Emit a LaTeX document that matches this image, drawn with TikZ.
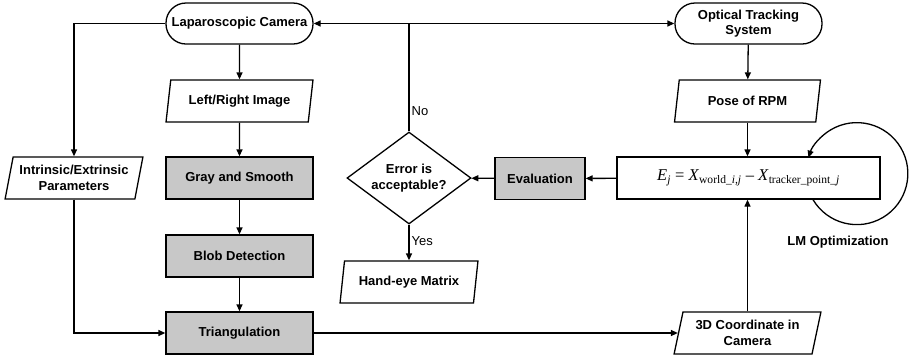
\documentclass[tikz,border=0pt]{standalone}
\usepackage{fontspec}
\setmainfont{Liberation Sans}
\newfontfamily\tms{Liberation Serif}
\usetikzlibrary{shapes.geometric,arrows.meta}
\definecolor{procgray}{RGB}{200,200,200}
\begin{document}
\begin{tikzpicture}[x=1pt,y=-1pt, line width=1.3pt,
  >={Triangle[length=7pt,width=6pt]},
  base/.style={draw, font=\fontsize{13}{15.5}\selectfont\bfseries, align=center, inner sep=0pt},
  term/.style={base, rectangle, rounded corners=20pt, minimum width=147pt, minimum height=41pt},
  proc/.style={base, rectangle, fill=procgray, minimum width=147pt, minimum height=42pt},
  io/.style={base, trapezium, trapezium left angle=74, trapezium right angle=106,
             trapezium stretches=true, minimum width=#1, minimum height=42pt},
  io/.default=147pt,
  decis/.style={base, diamond, aspect=1.35, minimum width=124pt, minimum height=92pt},
  eqbox/.style={draw, rectangle, fill=white, minimum width=263pt, minimum height=42pt, inner sep=0pt},
  lbl/.style={font=\fontsize{13}{15}\selectfont, inner sep=2pt}
]
\useasboundingbox (0,0) rectangle (910,360);

\node[term] (lap) at (239.5,23.5) {Laparoscopic Camera};
\node[term] (ots) at (748.5,23.5) {Optical Tracking\\System};
\node[io] (lr) at (239.5,101) {Left/Right Image};
\node[proc] (gs) at (239.5,178) {Gray and Smooth};
\node[proc] (bd) at (239.5,256) {Blob Detection};
\node[proc] (tri) at (239.5,333) {Triangulation};
\node[io=138pt] (par) at (74,178) {Intrinsic/Extrinsic\\Parameters};
\node[io] (pose) at (747.5,101) {Pose of RPM};
\node[io] (c3d) at (747.5,333) {3D Coordinate in\\Camera};
\node[eqbox] (err) at (748.5,178) {\tms\fontsize{16.5}{18}\selectfont
  \textit{E}\textsubscript{\textit{j}} = \textit{X}\textsubscript{world\_\textit{i,j}} \raisebox{0.1ex}{\textendash}
  \textit{X}\textsubscript{tracker\_point\_\textit{j}}};
\node[proc, minimum width=90pt] (eval) at (540,178.5) {Evaluation};
\node[decis] (dec) at (409,178) {Error is\\acceptable?};
\node[io=138pt] (he) at (409,282) {Hand-eye Matrix};
\node[font=\fontsize{13}{15}\selectfont\bfseries] (lm) at (838,242) {LM Optimization};

\draw[->] (lap) -- (lr);
\draw[->] (lr) -- (gs);
\draw[->] (gs) -- (bd);
\draw[->] (bd) -- (tri);
\draw[->] (lap.west) -| (par.north);
\draw[->] (par.south) |- (tri.west);
\draw[->] (tri) -- (c3d);
\draw[->] (c3d.north) -- (c3d.north |- err.south);
\draw[->] (ots) -- (pose);
\draw[->] (pose.south) -- (pose.south |- err.north);
\draw[->] (err) -- (eval);
\draw[->] (eval) -- (dec);
\draw[->] (dec) -- node[lbl, right, pos=0.45] {Yes} (he);
\coordinate (j) at (dec.north |- lap.east);
\draw (dec.north) -- node[lbl, right, pos=0.19] {No} (j);
\draw[->] (j) -- (lap.east);
\draw[->] (j) -- (ots.west);
\draw[->] ([xshift=64.5pt]err.south) arc[start angle=149.3, end angle=-161.7, radius=51];
\end{tikzpicture}
\end{document}
